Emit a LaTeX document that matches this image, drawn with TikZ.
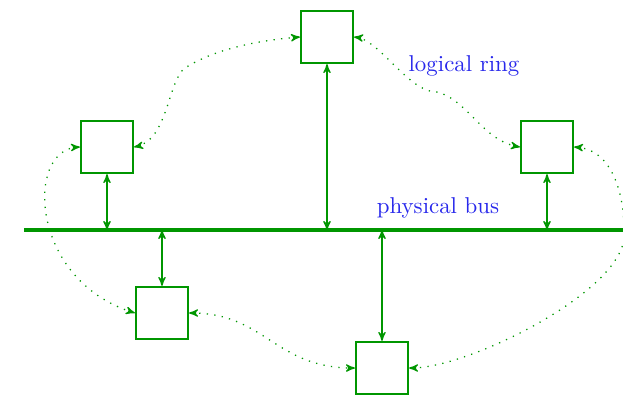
\documentclass[tikz,border=0pt]{standalone}
\usepackage{tikz}
\usetikzlibrary{arrows, positioning, calc}
\definecolor{busgreen}{RGB}{0,150,0}
\definecolor{lblblue}{RGB}{40,40,235}
\tikzset{%
	box/.style={draw=busgreen, thick, rectangle, minimum size=25pt, inner sep=0mm, fill=white},
	bus/.style={draw=busgreen, line width=1.5pt},
	link/.style={<->, >=stealth', semithick, draw=busgreen},
	ring/.style={<->, >=stealth', semithick, draw=busgreen, dash pattern=on 0.6pt off 3pt},
	lbl/.style={text=lblblue, inner sep=0mm, font=\fontsize{10.9}{13}\selectfont}
}
\begin{document}
\begin{tikzpicture}[x=0.476pt, y=-0.476pt]
	\useasboundingbox (0,0) rectangle (623,395);

	% stations
	\node[box] (s1) at (327,37) {};
	\node[box] (s2) at (107,147) {};
	\node[box] (s3) at (547,147) {};
	\node[box] (s4) at (162,313) {};
	\node[box] (s5) at (382,368) {};

	% the bus
	\coordinate (busW) at (24,230);
	\coordinate (busE) at (623,230);
	\draw[bus] (busW) -- (busE);
	\node[lbl] (buslbl) at (438,208) {physical bus};
	\node[lbl] (ringlbl) at (464,66) {logical ring};

	\draw[link] (s1.south) -- (s1.south |- busW);
	\draw[link] (s2.south) -- (s2.south |- busW);
	\draw[link] (s3.south) -- (s3.south |- busW);
	\draw[link] (s4.north |- busW) -- (s4.north);
	\draw[link] (s5.north |- busW) -- (s5.north);

	% the ring
	\draw[ring] (s1.west) .. controls (240,42) and (205,55) .. (185,68)
		.. controls (168,80) and (168,140) .. (s2.east);
	\draw[ring] (s1.east) .. controls (378,40) and (405,85) .. (430,91)
		.. controls (465,93) and (480,140) .. (s3.west);
	\draw[ring] (s3.east) .. controls (615,150) and (625,200) .. (624,235)
		.. controls (625,290) and (470,368) .. (s5.east);
	\draw[ring] (s2.west) .. controls (25,150) and (30,280) .. (s4.west);
	\draw[ring] (s4.east) .. controls (265,313) and (275,368) .. (s5.west);
\end{tikzpicture}
\end{document}
